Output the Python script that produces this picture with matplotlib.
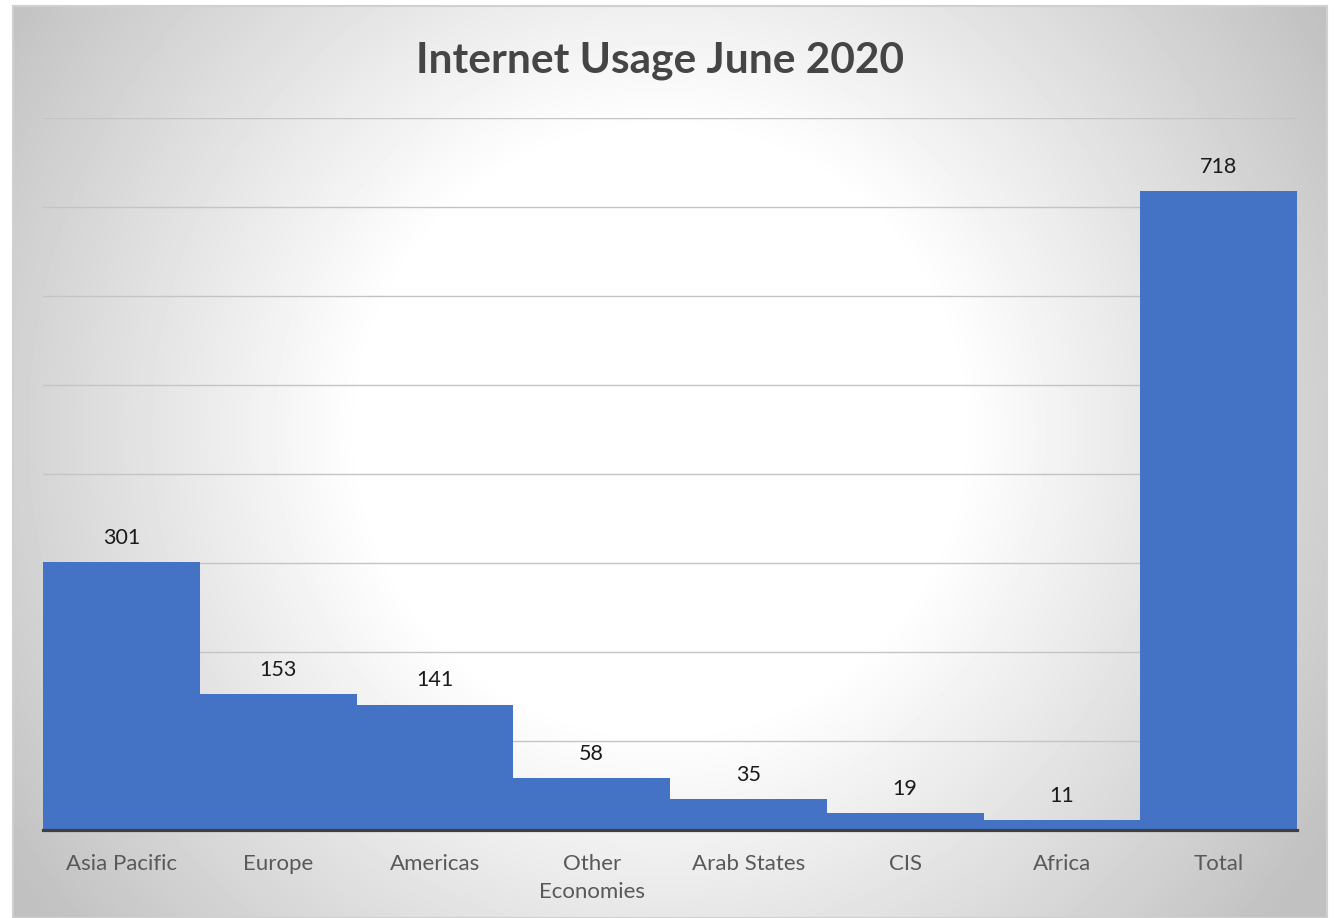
import numpy as np
import matplotlib
matplotlib.use("Agg")
import matplotlib.pyplot as plt

# data
regiones = ["Asia Pacific", "Europe", "Americas", "Other\nEconomies",
            "Arab States", "CIS", "Africa", "Total"]
usuarios = [301, 153, 141, 58, 35, 19, 11, 718]
titulo = "Internet Usage June 2020"

W, H = 1334, 918
fig = plt.figure(figsize=(W / 100, H / 100), dpi=100)
fig.patch.set_facecolor("white")

def px(x0, y0, x1, y1):
    # pixel box (top-left origin) -> figure fraction
    return [x0 / W, 1 - y1 / H, (x1 - x0) / W, (y1 - y0) / H]

# fondo con degradado radial
fx0, fy0, fx1, fy1 = 13, 6, 1327, 918
bg = fig.add_axes(px(fx0, fy0, fx1, fy1), zorder=0)
gx = np.arange(fx0, fx1)
gy = np.arange(fy0, fy1)
X, Y = np.meshgrid(gx, gy)
cx, cy = 660, 430
r = np.sqrt((X - cx) ** 2 + (Y - cy) ** 2)
f = np.clip((r - 300) / 480.0, 0, 1)
val = (255 - 62 * f) / 255.0
bg.imshow(val, cmap="gray", vmin=0, vmax=1, aspect="auto", interpolation="bilinear")
bg.set_xticks([])
bg.set_yticks([])
for s in bg.spines.values():
    s.set_color("#d0d0d0")
    s.set_linewidth(1.5)

# area del grafico
ax = fig.add_axes(px(43, 118, 1297, 830), zorder=1)
ax.patch.set_alpha(0)
x = np.arange(len(regiones))
ax.bar(x, usuarios, width=1.0, color="#4472C4", linewidth=0, zorder=3)
ax.set_xlim(-0.5, len(regiones) - 0.5)
ax.set_ylim(0, 800)
ax.set_yticks(np.arange(100, 801, 100))
ax.yaxis.grid(True, color="#c4c4c4", linewidth=1, zorder=0)
ax.set_axisbelow(True)
ax.tick_params(axis="y", left=False, labelleft=False)
ax.set_xticks(x)
ax.set_xticklabels(regiones, family="Lato", fontsize=16, color="#595959",
                   linespacing=1.55)
ax.tick_params(axis="x", length=0, pad=17)
for s in ["top", "right", "left"]:
    ax.spines[s].set_visible(False)
ax.spines["bottom"].set_color("#404040")
ax.spines["bottom"].set_linewidth(2.3)
ax.spines["bottom"].set_zorder(4)

for xi, v in zip(x, usuarios):
    ax.annotate(str(v), (xi, v), xytext=(0, 17.5), textcoords="offset points",
                ha="center", va="center", family="Lato", fontsize=15.5,
                color="#1a1a1a")

fig.text(660 / W, 1 - 72 / H, titulo, ha="center", va="baseline",
         family="Lato", fontweight="bold", fontsize=30.5, color="#454545")

fig.savefig("out.png", dpi=100)
